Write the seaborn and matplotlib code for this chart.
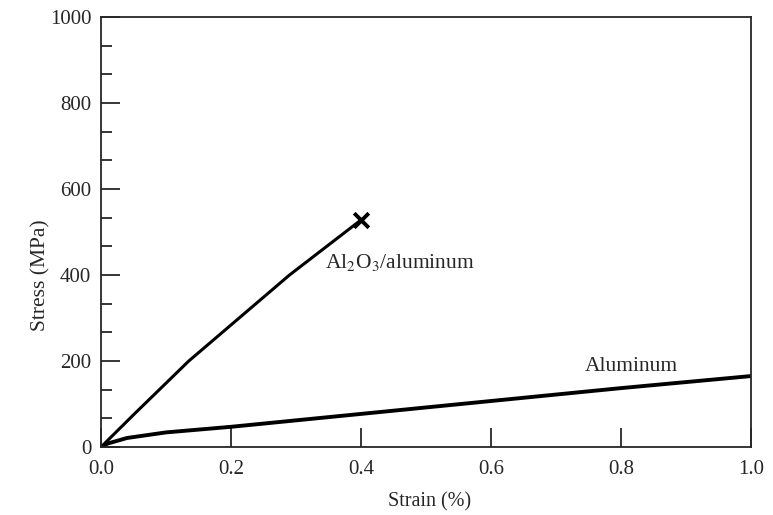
import numpy as np
import pandas as pd
import seaborn as sns
import matplotlib.pyplot as plt
from matplotlib.ticker import MultipleLocator

# values
composite_strain = [0.0, 0.05, 0.135, 0.29, 0.40]
composite_stress = [0.0, 75, 200, 400, 528]
aluminum_strain = [0.0, 0.01, 0.04, 0.1, 0.2, 0.4, 0.6, 0.8, 1.0]
aluminum_stress = [0.0, 8, 21, 34, 47, 77, 107, 137, 165]
failure_strain = [0.40]
failure_stress = [528]
x_ticks = [0.0, 0.2, 0.4, 0.6, 0.8, 1.0]
y_ticks = [0, 200, 400, 600, 800, 1000]

composite = pd.DataFrame({'strain': composite_strain, 'stress': composite_stress})
aluminum = pd.DataFrame({'strain': aluminum_strain, 'stress': aluminum_stress})
failure = pd.DataFrame({'strain': failure_strain, 'stress': failure_stress})

sns.set_style("ticks")
plt.rcParams['font.family'] = ['Liberation Serif', 'DejaVu Serif']
plt.rcParams['mathtext.fontset'] = 'stix'

fig = plt.figure(figsize=(7.73, 5.15), dpi=100)
ax = fig.add_axes([0.1307, 0.132, 0.8408, 0.835])

sns.lineplot(data=composite, x='strain', y='stress', color='black', linewidth=2.2, ax=ax)
sns.lineplot(data=aluminum, x='strain', y='stress', color='black', linewidth=2.8, ax=ax)
sns.scatterplot(data=failure, x='strain', y='stress', marker='x', s=110, color='black',
                linewidth=2.8, ax=ax, zorder=5)

ax.text(0.345, 430, r'Al$_2$O$_3$/aluminum', fontsize=15.5, ha='left', va='center')
ax.text(0.745, 187, 'Aluminum', fontsize=15.5, ha='left', va='center')

ax.set_xlim(0, 1.0)
ax.set_ylim(0, 1000)
ax.set_xticks(x_ticks)
ax.set_xticklabels(['%.1f' % t for t in x_ticks])
ax.set_yticks(y_ticks)
ax.yaxis.set_minor_locator(MultipleLocator(200 / 3))
ax.tick_params(which='major', direction='in', length=14, width=1.3, labelsize=15)
ax.tick_params(axis='x', which='major', pad=9)
ax.tick_params(axis='y', which='major', pad=7)
ax.tick_params(which='minor', direction='in', length=8, width=1.3)
for side in ax.spines.values():
    side.set_linewidth(1.3)

ax.set_xlabel('Strain (%)', fontsize=14.5)
ax.set_ylabel('Stress (MPa)', fontsize=15.5)
ax.xaxis.set_label_coords(0.505, -0.105)
ax.yaxis.set_label_coords(-0.078, 0.40)

fig.savefig('out.png', dpi=100)
